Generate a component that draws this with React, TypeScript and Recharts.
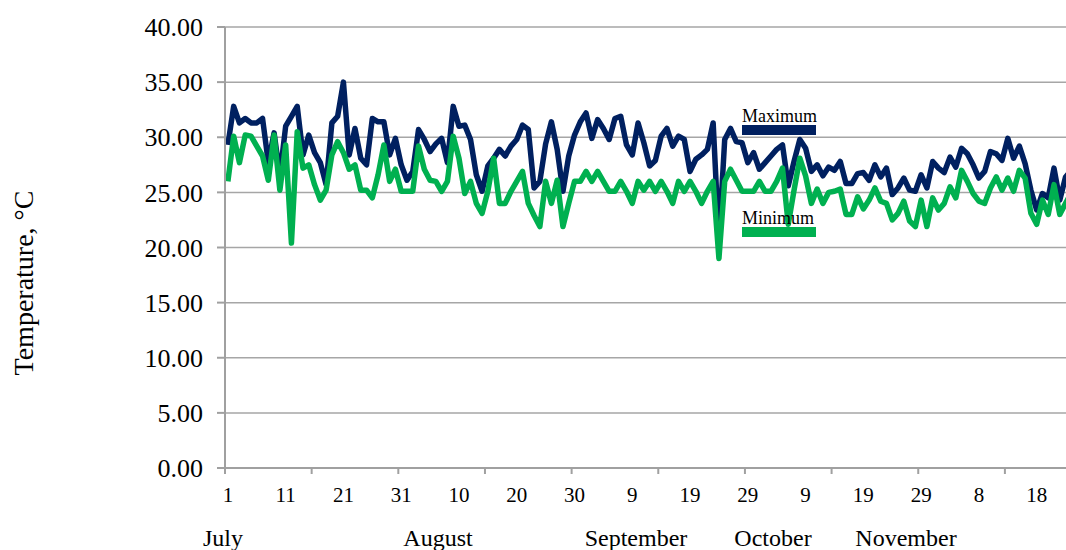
import React from 'react';
import { CartesianGrid, Legend, Line, LineChart, XAxis, YAxis } from 'recharts';

// daily max / min temperature, 1 July onwards
const maxTemp = [
  29.3, 32.8, 31.3, 31.7, 31.3, 31.3, 31.7, 27.7, 30.4, 26.5,
  31.0, 31.9, 32.8, 28.4, 30.2, 28.6, 27.7, 25.7, 31.3, 31.9,
  35.0, 28.4, 30.8, 28.1, 27.5, 31.7, 31.4, 31.4, 28.4, 29.9,
  27.5, 26.1, 26.9, 30.7, 29.8, 28.7, 29.4, 29.9, 27.7, 32.8,
  31.0, 31.1, 29.8, 26.6, 25.1, 27.4, 28.1, 28.9, 28.3, 29.2,
  29.8, 31.1, 30.7, 25.4, 26.0, 29.4, 31.4, 28.9, 25.1, 28.3,
  30.2, 31.4, 32.2, 29.9, 31.6, 30.8, 29.8, 31.7, 31.9, 29.3,
  28.4, 31.3, 29.5, 27.4, 27.9, 30.1, 30.8, 29.2, 30.1, 29.8,
  26.9, 28.0, 28.4, 28.9, 31.3, 20.6, 29.8, 30.8, 29.6, 29.5,
  27.7, 28.6, 27.1, 27.7, 28.3, 28.9, 29.3, 25.6, 27.8, 29.8,
  29.0, 26.9, 27.5, 26.5, 27.3, 27.0, 27.8, 25.8, 25.8, 26.7,
  26.8, 26.1, 27.5, 26.4, 27.2, 24.8, 25.4, 26.3, 25.2, 25.1,
  26.6, 25.4, 27.8, 27.2, 26.8, 28.2, 27.3, 29.0, 28.5, 27.5,
  26.3, 26.9, 28.7, 28.5, 27.9, 29.9, 28.1, 29.2, 27.6, 25.2,
  23.4, 24.9, 24.5, 27.2, 24.3, 26.4, 27.0,
];

const minTemp = [
  26.0, 30.1, 27.7, 30.2, 30.1, 29.2, 28.3, 26.1, 30.2, 25.2,
  29.3, 20.4, 30.5, 27.2, 27.5, 25.7, 24.3, 25.2, 28.4, 29.6,
  28.6, 27.1, 27.5, 25.2, 25.2, 24.5, 26.6, 29.3, 26.0, 27.1,
  25.1, 25.1, 25.1, 29.2, 27.1, 26.1, 26.0, 25.1, 26.0, 30.1,
  28.1, 24.9, 26.0, 24.0, 23.1, 25.1, 28.1, 24.0, 24.0, 25.1,
  26.0, 26.9, 24.0, 22.9, 21.9, 26.0, 24.0, 26.1, 21.9, 24.0,
  26.0, 26.0, 26.9, 26.0, 26.9, 26.0, 25.1, 25.1, 26.0, 25.1,
  24.0, 26.0, 25.2, 26.0, 25.1, 26.0, 25.1, 24.0, 26.0, 25.1,
  26.0, 25.1, 24.0, 25.1, 26.0, 19.0, 26.0, 27.1, 26.1, 25.1,
  25.1, 25.1, 26.0, 25.1, 25.1, 26.0, 27.2, 22.1, 25.2, 28.1,
  26.5, 24.0, 25.3, 24.0, 25.0, 25.1, 25.3, 23.0, 23.0, 24.6,
  23.5, 24.3, 25.4, 24.2, 24.0, 22.5, 23.1, 24.2, 22.4, 21.9,
  24.3, 21.9, 24.5, 23.4, 24.0, 25.5, 24.5, 27.0, 26.0, 24.9,
  24.2, 24.0, 25.4, 26.4, 25.2, 26.3, 25.1, 27.0, 26.3, 23.1,
  22.1, 24.3, 23.0, 25.7, 23.0, 24.0, 25.0,
];

// labels shown every 10th day
const dayLabels = ['1', '11', '21', '31', '10', '20', '30', '9', '19', '29', '9', '19', '29', '8', '18'];
const months = ['July', 'August', 'September', 'October', 'November'];
const yTicks = [0, 5, 10, 15, 20, 25, 30, 35, 40];

const data = maxTemp.map((v, i) => ({ i, max: v, min: minTemp[i] }));
const xTicks = data.map((d) => d.i);

// hand placed month captions under the axis
const monthX = [223, 438, 636, 773, 906];

const FONT = '"Liberation Serif", "Times New Roman", serif';
const AXIS = '#a0a0a0';

// category axis: points sit mid-category, tick marks on the boundaries
const CHART_W = 1080;
const Y_W = 225;
const X_MIN = -0.5;
const X_MAX = 147.5;
const DAY_PX = (CHART_W - Y_W) / (X_MAX - X_MIN);

const DayTick = (props: any) => {
  const { x, y, payload } = props;
  const i = payload.value;
  const bx = x - DAY_PX / 2;
  return (
    <g>
      {i % 15 === 0 && <line x1={bx} x2={bx} y1={y} y2={y + 6} stroke={AXIS} strokeWidth={2} />}
      {i % 10 === 0 && (
        <text x={x} y={y + 34} textAnchor="middle" fontSize={21} fontFamily={FONT} fill="#000">
          {dayLabels[i / 10]}
        </text>
      )}
    </g>
  );
};

const YTitle = () => (
  <text
    x={0}
    y={0}
    transform="translate(33,283) rotate(-90)"
    textAnchor="middle"
    fontSize={28}
    fontFamily={FONT}
    fill="#000"
  >
    Temperature, °C
  </text>
);

const LegendBox = (props: any) => {
  const { payload } = props;
  return (
    <div style={{ fontFamily: FONT, fontSize: 18, color: '#000', position: 'relative' }}>
      {(payload || []).map((p: any, k: number) => (
        <div key={p.value} style={{ position: 'absolute', left: 0, top: k * 102 }}>
          <div style={{ lineHeight: '18px', whiteSpace: 'nowrap' }}>{p.value}</div>
          <div style={{ width: 74, height: 10, background: p.color, marginTop: 0 }} />
        </div>
      ))}
    </div>
  );
};

export default function App() {
  return (
    <div style={{ position: 'absolute', left: 0, top: 0, width: 1066, height: 550, overflow: 'hidden', background: '#fff' }}>
      <LineChart width={CHART_W} height={550} data={data} margin={{ top: 27, right: 0, bottom: 0, left: 0 }}>
        <CartesianGrid vertical={false} stroke="#a6a6a6" strokeWidth={1.5} />
        <XAxis
          type="number"
          dataKey="i"
          domain={[X_MIN, X_MAX]}
          ticks={xTicks}
          interval={0}
          tickLine={false}
          tickSize={0}
          tickMargin={0}
          height={82}
          axisLine={{ stroke: AXIS, strokeWidth: 2 }}
          tick={<DayTick />}
        />
        <YAxis
          width={Y_W}
          domain={[0, 40]}
          ticks={yTicks}
          interval={0}
          tickSize={8}
          tickMargin={14}
          tickFormatter={(v: number) => v.toFixed(2)}
          tick={{ fill: '#000', fontSize: 26, fontFamily: FONT }}
          tickLine={{ stroke: AXIS, strokeWidth: 2 }}
          axisLine={{ stroke: AXIS, strokeWidth: 2 }}
          label={<YTitle />}
        />
        <Legend
          layout="horizontal"
          verticalAlign="middle"
          align="center"
          content={<LegendBox />}
          wrapperStyle={{ position: 'absolute', left: 742, top: 107, width: 80, height: 10 }}
        />
        <Line
          type="linear"
          dataKey="max"
          name="Maximum"
          stroke="#002060"
          strokeWidth={5.5}
          strokeLinejoin="round"
          dot={false}
          isAnimationActive={false}
        />
        <Line
          type="linear"
          dataKey="min"
          name="Minimum"
          stroke="#00b050"
          strokeWidth={5.5}
          strokeLinejoin="round"
          dot={false}
          isAnimationActive={false}
        />
      </LineChart>
      {months.map((m, k) => (
        <div
          key={m}
          style={{
            position: 'absolute',
            left: monthX[k],
            top: 526,
            transform: 'translateX(-50%)',
            fontFamily: FONT,
            fontSize: 24,
            lineHeight: '24px',
            whiteSpace: 'nowrap',
          }}
        >
          {m}
        </div>
      ))}
    </div>
  );
}
